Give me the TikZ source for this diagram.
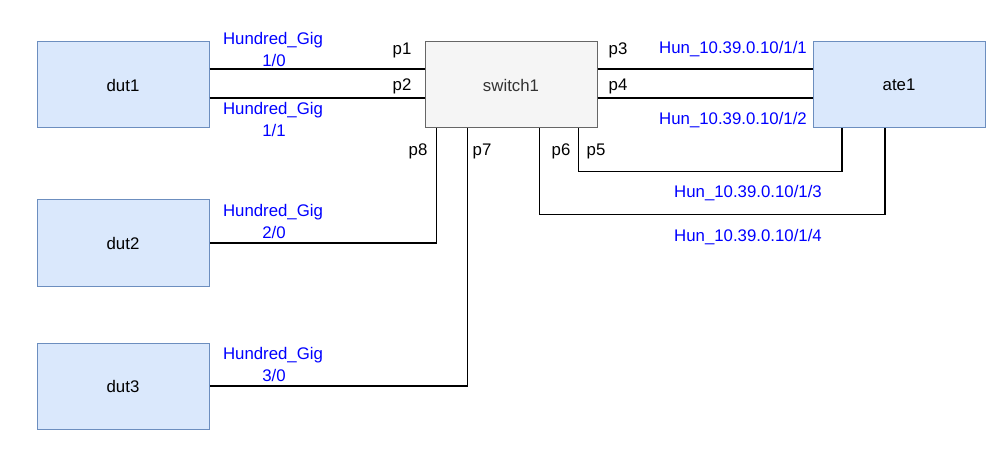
\documentclass[tikz,border=0pt]{standalone}
\usepackage{fontspec}
\setmainfont{Liberation Sans}
\definecolor{boxfill}{HTML}{DAE8FC}
\definecolor{boxline}{HTML}{6C8EBF}
\definecolor{swfill}{HTML}{F5F5F5}
\definecolor{swline}{HTML}{666666}
\definecolor{swtext}{HTML}{333333}
\definecolor{lbl}{HTML}{0000FF}
\tikzset{
  devbox/.style={draw=boxline, fill=boxfill, line width=1pt, minimum width=172pt, minimum height=86pt, inner sep=0pt, text=black},
  swbox/.style={draw=swline, fill=swfill, line width=1pt, minimum width=172pt, minimum height=86pt, inner sep=0pt, text=swtext},
  link/.style={draw=black, line width=1.2pt},
  ifl/.style={text=lbl, inner sep=0pt, align=center},
  port/.style={text=black, inner sep=0pt}
}
\begin{document}
\begin{tikzpicture}[x=1pt, y=-1pt, font=\fontsize{16.8}{20}\selectfont]
\useasboundingbox (0,0) rectangle (1007,449);
\node[devbox] (dut1) at (123,85) {dut1};
\node[devbox] (dut2) at (123,243) {dut2};
\node[devbox] (dut3) at (123,386) {dut3};
\node[swbox] (sw) at (511,85) {switch1};
\node[devbox] (ate) at (899,85) {ate1};
% links dut1 - switch
\draw[link] ([yshift=16pt]dut1.east) -- ([yshift=16pt]sw.west);
\draw[link] ([yshift=-13pt]dut1.east) -- ([yshift=-13pt]sw.west);
% switch - ate
\draw[link] ([yshift=16pt]sw.east) -- ([yshift=16pt]ate.west);
\draw[link] ([yshift=-13pt]sw.east) -- ([yshift=-13pt]ate.west);
% p5, p6
\draw[link] ([xshift=154pt]sw.south west) -- ++(0,43) -| ([xshift=-57pt]ate.south);
\draw[link] ([xshift=115pt]sw.south west) -- ++(0,86) -| ([xshift=-14pt]ate.south);
% p8, p7
\draw[link] ([xshift=12pt]sw.south west) |- (dut2.east);
\draw[link] ([xshift=43pt]sw.south west) |- (dut3.east);
% labels
\node[ifl] (l1a) at (273,40) {Hundred\_Gig};
\node[ifl] (l1b) at (274,60) {1/0};
\node[ifl] (l2a) at (273,110) {Hundred\_Gig};
\node[ifl] (l2b) at (274,130) {1/1};
\node[ifl] (l3a) at (273,212) {Hundred\_Gig};
\node[ifl] (l3b) at (274,232) {2/0};
\node[ifl] (l4a) at (273,355) {Hundred\_Gig};
\node[ifl] (l4b) at (274,375) {3/0};
\node[ifl] (h1) at (733,49) {Hun\_10.39.0.10/1/1};
\node[ifl] (h2) at (733,120) {Hun\_10.39.0.10/1/2};
\node[ifl] (h3) at (748,193) {Hun\_10.39.0.10/1/3};
\node[ifl] (h4) at (748,237) {Hun\_10.39.0.10/1/4};
\node[port] (p1) at (402,50) {p1};
\node[port] (p2) at (402,86) {p2};
\node[port] (p3) at (618,50) {p3};
\node[port] (p4) at (618,86) {p4};
\node[port] (p5) at (596,151) {p5};
\node[port] (p6) at (561,151) {p6};
\node[port] (p7) at (482,151) {p7};
\node[port] (p8) at (418,151) {p8};
\end{tikzpicture}
\end{document}
